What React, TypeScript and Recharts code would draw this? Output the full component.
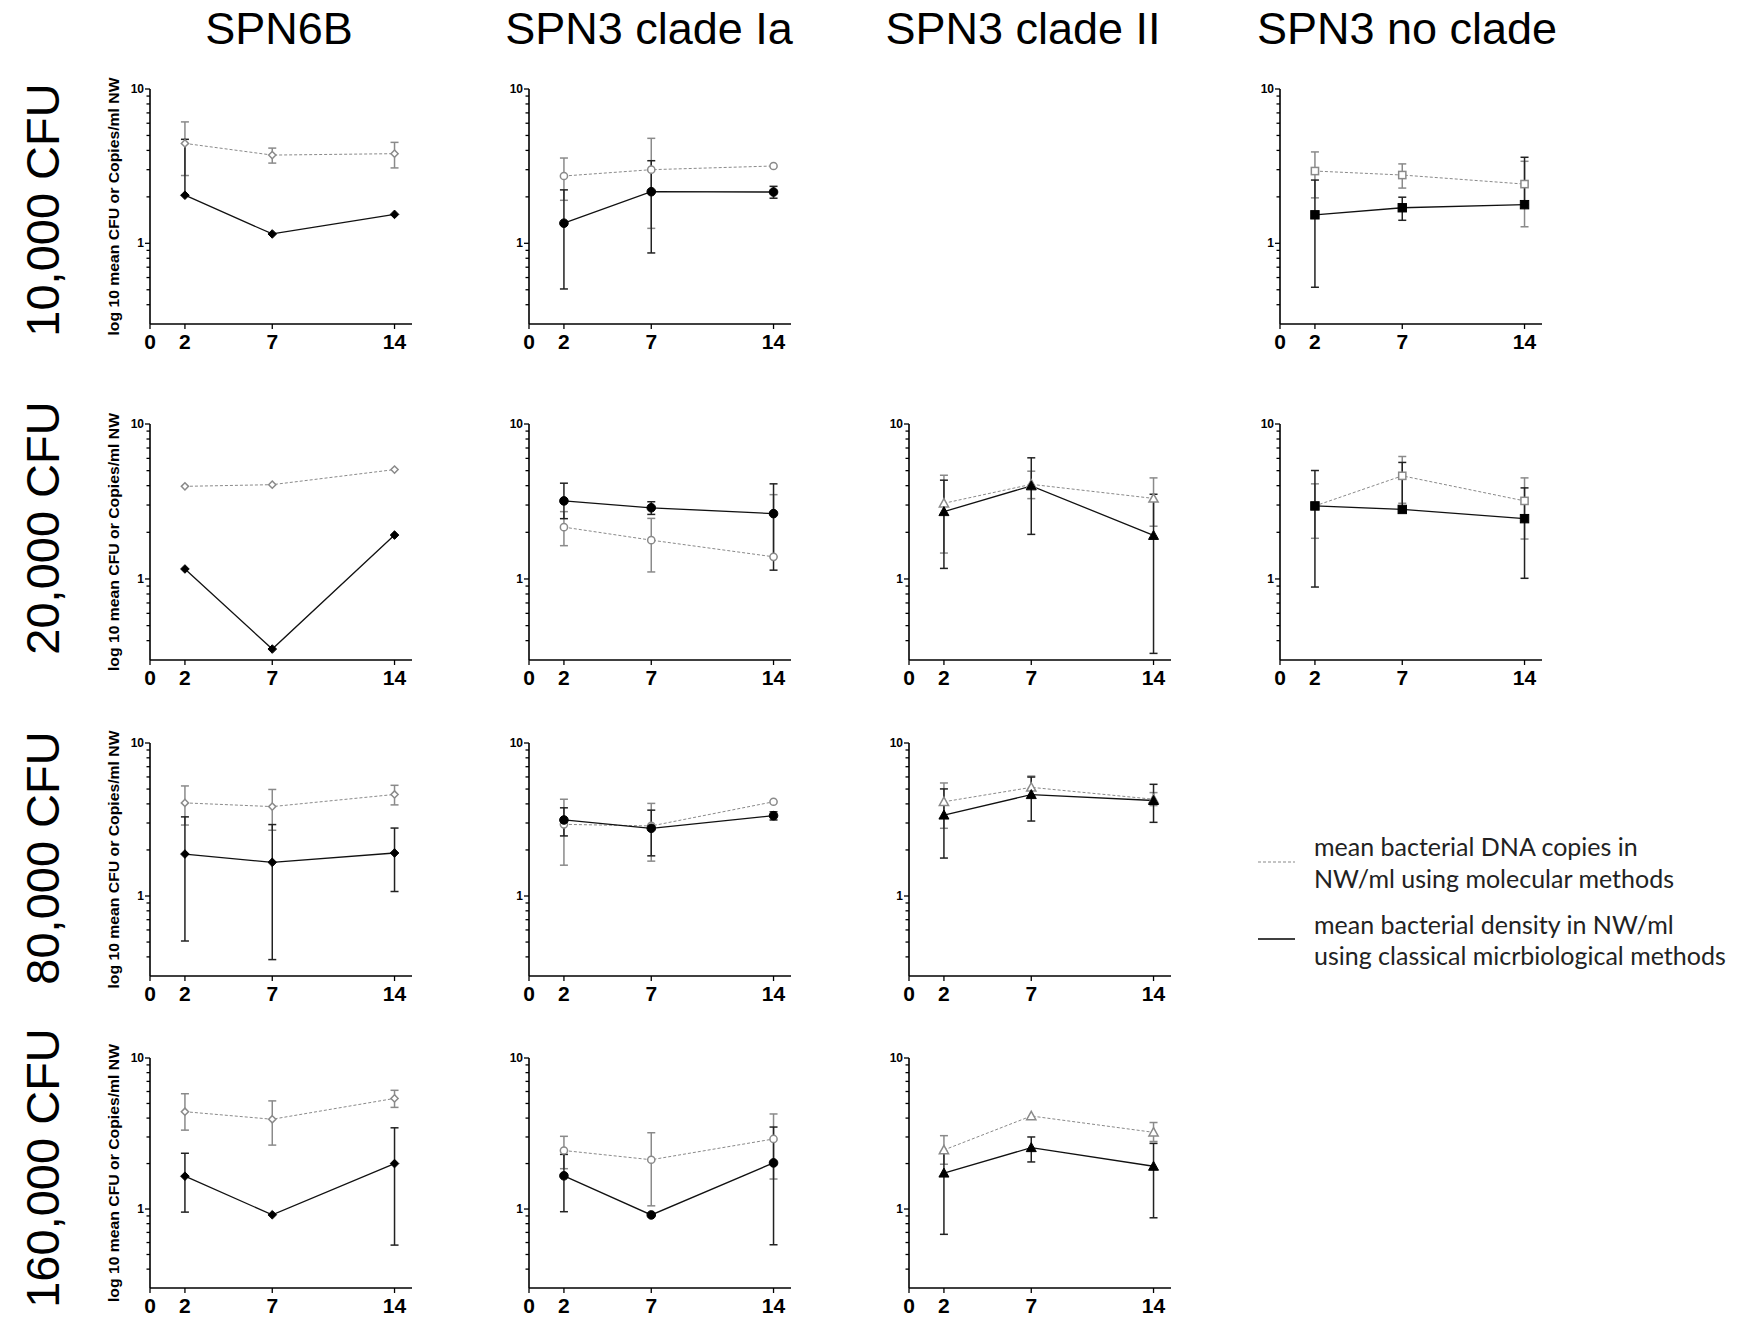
import React from 'react';
import { LineChart, Line, XAxis, YAxis, ErrorBar } from 'recharts';

// days after challenge
const days = [2, 7, 14];
const xTicks = [0, 2, 7, 14];
const yTicks = [0.4, 0.5, 0.6, 0.7, 0.8, 0.9, 1, 2, 3, 4, 5, 6, 7, 8, 9, 10];

const colTitles = ['SPN6B', 'SPN3 clade Ia', 'SPN3 clade II', 'SPN3 no clade'];
const rowTitles = ['10,000 CFU', '20,000 CFU', '80,000 CFU', '160,000 CFU'];

type Err = [number, number] | null;

// mol = molecular (DNA copies), cls = classical (CFU); errors as [low, high]
const spn6b10kMol = [4.44, 3.73, 3.81];
const spn6b10kMolErr: Err[] = [[2.75, 6.12], [3.31, 4.14], [3.08, 4.51]];
const spn6b10kCls = [2.05, 1.15, 1.54];
const spn6b10kClsErr: Err[] = [[2.05, 4.72], null, null];

const spn6b20kMol = [3.96, 4.06, 5.08];
const spn6b20kMolErr: Err[] = [null, null, null];
const spn6b20kCls = [1.16, 0.353, 1.92];
const spn6b20kClsErr: Err[] = [null, null, null];

const spn6b80kMol = [4.06, 3.84, 4.61];
const spn6b80kMolErr: Err[] = [[2.91, 5.24], [2.69, 4.97], [3.94, 5.29]];
const spn6b80kCls = [1.88, 1.66, 1.91];
const spn6b80kClsErr: Err[] = [[0.508, 3.29], [0.384, 2.93], [1.07, 2.78]];

const spn6b160kMol = [4.41, 3.93, 5.4];
const spn6b160kMolErr: Err[] = [[3.33, 5.8], [2.65, 5.2], [4.71, 6.11]];
const spn6b160kCls = [1.65, 0.916, 2.0];
const spn6b160kClsErr: Err[] = [[0.954, 2.34], null, [0.577, 3.45]];

const ia10kMol = [2.73, 3.0, 3.17];
const ia10kMolErr: Err[] = [[1.9, 3.57], [1.25, 4.79], null];
const ia10kCls = [1.35, 2.16, 2.15];
const ia10kClsErr: Err[] = [[0.506, 2.22], [0.866, 3.43], [1.96, 2.34]];

const ia20kMol = [2.16, 1.78, 1.39];
const ia20kMolErr: Err[] = [[1.64, 2.72], [1.11, 2.46], [1.39, 3.5]];
const ia20kCls = [3.19, 2.88, 2.64];
const ia20kClsErr: Err[] = [[2.45, 4.15], [2.61, 3.15], [1.14, 4.11]];

const ia80kMol = [2.94, 2.87, 4.13];
const ia80kMolErr: Err[] = [[1.59, 4.29], [1.69, 4.03], null];
const ia80kCls = [3.14, 2.77, 3.35];
const ia80kClsErr: Err[] = [[2.47, 3.77], [1.83, 3.64], [3.14, 3.55]];

const ia160kMol = [2.44, 2.12, 2.91];
const ia160kMolErr: Err[] = [[1.85, 3.03], [1.05, 3.2], [1.58, 4.26]];
const ia160kCls = [1.66, 0.914, 2.02];
const ia160kClsErr: Err[] = [[0.96, 2.3], null, [0.58, 3.49]];

const ii20kMol = [3.08, 4.08, 3.31];
const ii20kMolErr: Err[] = [[1.47, 4.67], [3.3, 4.96], [2.19, 4.49]];
const ii20kCls = [2.72, 3.99, 1.91];
const ii20kClsErr: Err[] = [[1.17, 4.34], [1.94, 6.05], [0.331, 3.52]];

const ii80kMol = [4.13, 5.13, 4.29];
const ii80kMolErr: Err[] = [[2.77, 5.48], [4.5, 6.08], [3.9, 4.74]];
const ii80kCls = [3.38, 4.6, 4.21];
const ii80kClsErr: Err[] = [[1.77, 5.01], [3.09, 5.99], [3.03, 5.37]];

const ii160kMol = [2.46, 4.13, 3.22];
const ii160kMolErr: Err[] = [[1.98, 3.06], null, [2.8, 3.74]];
const ii160kCls = [1.73, 2.55, 1.92];
const ii160kClsErr: Err[] = [[0.68, 2.4], [2.05, 3.0], [0.875, 2.72]];

const nc10kMol = [2.94, 2.77, 2.42];
const nc10kMolErr: Err[] = [[1.97, 3.91], [2.28, 3.27], [1.28, 3.4]];
const nc10kCls = [1.53, 1.7, 1.78];
const nc10kClsErr: Err[] = [[0.519, 2.57], [1.41, 1.99], [1.78, 3.61]];

const nc20kMol = [2.96, 4.63, 3.19];
const nc20kMolErr: Err[] = [[1.83, 4.11], [3.08, 6.17], [1.81, 4.49]];
const nc20kCls = [2.96, 2.81, 2.45];
const nc20kClsErr: Err[] = [[0.887, 5.01], [2.81, 5.65], [1.01, 3.87]];

type Shape = 'diamond' | 'circle' | 'triangle' | 'square';
const colShapes: Shape[] = ['diamond', 'circle', 'triangle', 'square'];

const panels = [
  { row: 0, col: 0, mol: spn6b10kMol, molErr: spn6b10kMolErr, cls: spn6b10kCls, clsErr: spn6b10kClsErr },
  { row: 1, col: 0, mol: spn6b20kMol, molErr: spn6b20kMolErr, cls: spn6b20kCls, clsErr: spn6b20kClsErr },
  { row: 2, col: 0, mol: spn6b80kMol, molErr: spn6b80kMolErr, cls: spn6b80kCls, clsErr: spn6b80kClsErr },
  { row: 3, col: 0, mol: spn6b160kMol, molErr: spn6b160kMolErr, cls: spn6b160kCls, clsErr: spn6b160kClsErr },
  { row: 0, col: 1, mol: ia10kMol, molErr: ia10kMolErr, cls: ia10kCls, clsErr: ia10kClsErr },
  { row: 1, col: 1, mol: ia20kMol, molErr: ia20kMolErr, cls: ia20kCls, clsErr: ia20kClsErr },
  { row: 2, col: 1, mol: ia80kMol, molErr: ia80kMolErr, cls: ia80kCls, clsErr: ia80kClsErr },
  { row: 3, col: 1, mol: ia160kMol, molErr: ia160kMolErr, cls: ia160kCls, clsErr: ia160kClsErr },
  { row: 1, col: 2, mol: ii20kMol, molErr: ii20kMolErr, cls: ii20kCls, clsErr: ii20kClsErr },
  { row: 2, col: 2, mol: ii80kMol, molErr: ii80kMolErr, cls: ii80kCls, clsErr: ii80kClsErr },
  { row: 3, col: 2, mol: ii160kMol, molErr: ii160kMolErr, cls: ii160kCls, clsErr: ii160kClsErr },
  { row: 0, col: 3, mol: nc10kMol, molErr: nc10kMolErr, cls: nc10kCls, clsErr: nc10kClsErr },
  { row: 1, col: 3, mol: nc20kMol, molErr: nc20kMolErr, cls: nc20kCls, clsErr: nc20kClsErr },
];

// layout (px)
const COL_X = [150, 529, 909, 1280];
const PLOT_W = 262;
const ROW_TOP = [89, 424, 743, 1058];
const ROW_BOTTOM = [324, 660, 976, 1288];
const YAW = 34;
const MT = 8;
const MR = 10;
const XAH = 29;

const GREY = '#8a8a8a';
const DARK = '#111';
const FONT = '"Liberation Sans", Arial, sans-serif';

const toOffset = (v: number, e: Err) => (e ? [v - e[0], e[1] - v] : null);

const Marker = (props: any, shape: Shape, filled: boolean) => {
  const { cx, cy, index } = props;
  if (cx == null || cy == null) return <g key={`m-${index}`} />;
  const fill = filled ? '#000' : '#fff';
  const stroke = filled ? '#000' : GREY;
  const sw = filled ? 1 : 1.5;
  if (shape === 'circle') {
    return <circle key={`m-${index}`} cx={cx} cy={cy} r={filled ? 4.3 : 3.6} fill={fill} stroke={stroke} strokeWidth={sw} />;
  }
  if (shape === 'square') {
    const h = filled ? 4.2 : 3.6;
    return <rect key={`m-${index}`} x={cx - h} y={cy - h} width={2 * h} height={2 * h} fill={fill} stroke={stroke} strokeWidth={sw} />;
  }
  if (shape === 'triangle') {
    const h = filled ? 5 : 4.6;
    const pts = `${cx},${cy - h} ${cx + h},${cy + h * 0.8} ${cx - h},${cy + h * 0.8}`;
    return <polygon key={`m-${index}`} points={pts} fill={fill} stroke={stroke} strokeWidth={sw} />;
  }
  const r = filled ? 4.3 : 3.6;
  const pts = `${cx},${cy - r} ${cx + r},${cy} ${cx},${cy + r} ${cx - r},${cy}`;
  return <polygon key={`m-${index}`} points={pts} fill={fill} stroke={stroke} strokeWidth={sw} />;
};

const YTick = (props: any) => {
  const { y, payload } = props;
  const v = payload.value;
  const major = v === 1 || v === 10;
  return (
    <g>
      <line x1={YAW - (major ? 5 : 3.5)} x2={YAW} y1={y} y2={y} stroke="#000" strokeWidth={1.3} />
      {major && (
        <text x={YAW - 6} y={y + 4} textAnchor="end" fontSize={12} fontWeight="bold" fontFamily={FONT} fill="#000">
          {v}
        </text>
      )}
    </g>
  );
};

const Panel = ({ p }: { p: (typeof panels)[number] }) => {
  const plotH = ROW_BOTTOM[p.row] - ROW_TOP[p.row];
  const width = YAW + PLOT_W + MR;
  const height = MT + plotH + XAH;
  const shape = colShapes[p.col];
  const data = days.map((d, i) => ({
    day: d,
    mol: p.mol[i],
    molErr: toOffset(p.mol[i], p.molErr[i]),
    cls: p.cls[i],
    clsErr: toOffset(p.cls[i], p.clsErr[i]),
  }));
  const labelY = MT + plotH + 25;
  return (
    <div style={{ position: 'absolute', left: COL_X[p.col] - YAW, top: ROW_TOP[p.row] - MT }}>
      <LineChart width={width} height={height} data={data} margin={{ top: MT, right: MR, left: 0, bottom: 0 }} style={{ overflow: 'visible' }}>
        <XAxis
          dataKey="day"
          type="number"
          domain={[0, 15]}
          ticks={xTicks}
          allowDataOverflow
          height={XAH}
          axisLine={{ stroke: '#000', strokeWidth: 1.6 }}
          tickLine={{ stroke: '#000', strokeWidth: 1.3 }}
          tickSize={5}
          tick={(t: any) => (
            <text
              key={`xt-${t.payload.value}`}
              x={t.x}
              y={labelY}
              textAnchor="middle"
              fontWeight="bold"
              fontFamily={FONT}
              fill="#000"
              style={{ fontSize: 21 }}
            >
              {t.payload.value}
            </text>
          )}
        />
        <YAxis
          type="number"
          scale="log"
          domain={[0.3, 10]}
          ticks={yTicks}
          allowDataOverflow
          interval={0}
          width={YAW}
          axisLine={{ stroke: '#000', strokeWidth: 1.6 }}
          tickLine={false}
          tick={<YTick />}
        />
        <Line
          dataKey="mol"
          stroke={GREY}
          strokeWidth={1}
          strokeDasharray="3 2"
          dot={(d: any) => Marker(d, shape, false)}
          activeDot={false}
          isAnimationActive={false}
        >
          <ErrorBar dataKey="molErr" direction="y" width={4} stroke={GREY} strokeWidth={1.5} />
        </Line>
        <Line
          dataKey="cls"
          stroke={DARK}
          strokeWidth={1.3}
          dot={(d: any) => Marker(d, shape, true)}
          activeDot={false}
          isAnimationActive={false}
        >
          <ErrorBar dataKey="clsErr" direction="y" width={4} stroke="#222" strokeWidth={1.5} />
        </Line>
      </LineChart>
    </div>
  );
};

const colCentres = [279, 649, 1023, 1407];
const rowCentres = [210, 528, 858, 1168];

const App = () => {
  return (
    <div style={{ position: 'absolute', left: 0, top: 0, width: 1753, height: 1317, background: '#fff' }}>
      <svg width={1753} height={1317} style={{ position: 'absolute', left: 0, top: 0 }}>
        {colTitles.map((t, i) => (
          <text key={t} x={colCentres[i]} y={44} textAnchor="middle" fontSize={45} fontFamily={FONT} fill="#000">
            {t}
          </text>
        ))}
        {rowTitles.map((t, i) => (
          <text
            key={t}
            x={0}
            y={0}
            transform={`translate(59, ${rowCentres[i]}) rotate(-90)`}
            textAnchor="middle"
            fontSize={47}
            fontFamily={FONT}
            fill="#000"
          >
            {t}
          </text>
        ))}
        {[0, 1, 2, 3].map((r) => (
          <text
            key={`yl-${r}`}
            x={0}
            y={0}
            transform={`translate(119, ${(ROW_TOP[r] + ROW_BOTTOM[r]) / 2}) rotate(-90)`}
            textAnchor="middle"
            fontSize={14}
            fontWeight="bold"
            fontFamily={FONT}
            textLength={258}
            lengthAdjust="spacingAndGlyphs"
            fill="#000"
          >
            log 10 mean CFU or Copies/ml NW
          </text>
        ))}
        <g fontFamily="Lato, 'Open Sans', sans-serif" fontSize={25} fill="#222">
          <line x1={1258} x2={1295} y1={862} y2={862} stroke={GREY} strokeWidth={1.2} strokeDasharray="3 2" />
          <text x={1314} y={856}>mean bacterial DNA copies in</text>
          <text x={1314} y={888}>NW/ml using molecular methods</text>
          <line x1={1258} x2={1295} y1={939} y2={939} stroke="#000" strokeWidth={1.5} />
          <text x={1314} y={934}>mean bacterial density in NW/ml</text>
          <text x={1314} y={965}>using classical micrbiological methods</text>
        </g>
      </svg>
      {panels.map((p) => (
        <Panel key={`${p.row}-${p.col}`} p={p} />
      ))}
    </div>
  );
};

export default App;
